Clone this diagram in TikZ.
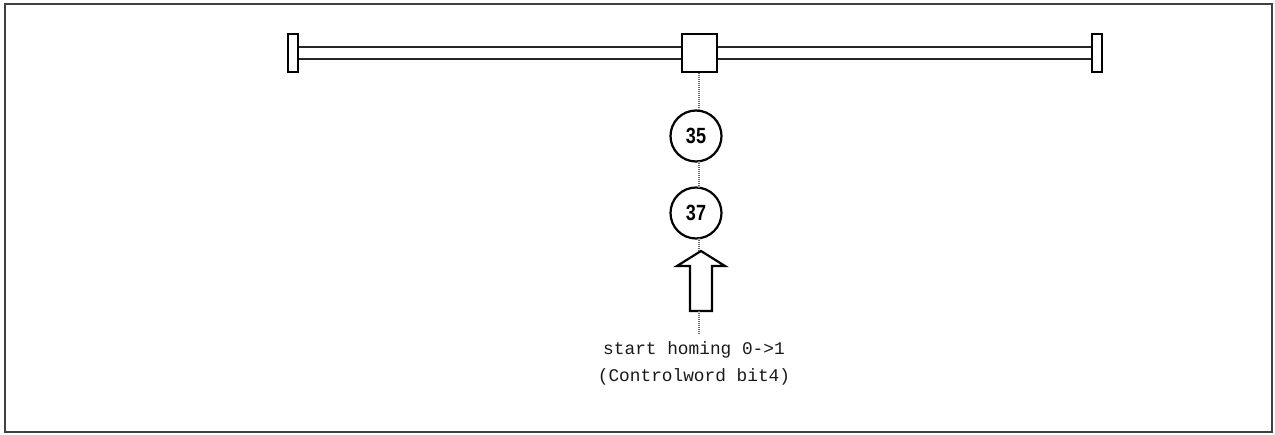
\documentclass[tikz,border=0pt]{standalone}
\usepackage{fontspec}
\newfontfamily\monof{Liberation Mono}
\newfontfamily\numf{Liberation Sans}
\begin{document}
\begin{tikzpicture}[x=1pt,y=-1pt,
  frame/.style={draw=black!75,line width=1.6pt},
  rail/.style={draw=black!85,line width=2.2pt},
  endcap/.style={draw=black,line width=2.2pt,fill=white,inner sep=0pt},
  dots/.style={draw=black!60,line width=1.8pt,dash pattern=on 1pt off 1pt},
  posn/.style={circle,draw=black,line width=2.2pt,fill=white,minimum size=51pt,inner sep=0pt,font=\numf\bfseries\fontsize{22}{22}\selectfont},
  lbl/.style={font=\monof\fontsize{17.8}{27}\selectfont,align=center,text=black!90}
]
\useasboundingbox (0,0) rectangle (1275,434);
\draw[frame] (5,4) rectangle (1272,432);
% end caps
\node[endcap,minimum width=10pt,minimum height=38pt] (lc) at (293,53) {};
\node[endcap,minimum width=10pt,minimum height=38pt] (rc) at (1097,53) {};
% carriage
\node[endcap,minimum width=35pt,minimum height=38pt] (sq) at (699.5,53) {};
% rails
\draw[rail] (lc.east |- 0,47) -- (sq.west |- 0,47);
\draw[rail] (lc.east |- 0,59) -- (sq.west |- 0,59);
\draw[rail] (sq.east |- 0,47) -- (rc.west |- 0,47);
\draw[rail] (sq.east |- 0,59) -- (rc.west |- 0,59);
% circles
\node[posn] (c35) at (696,136) {\scalebox{0.82}[1]{35}};
\node[posn] (c37) at (696,213) {\scalebox{0.82}[1]{37}};
% arrow
\coordinate (tip) at (701,251);
\coordinate (sb) at (699,311);
\draw[draw=black,line width=2.2pt,fill=white,line join=miter]
  (701,251) -- (725,266) -- (712,266) -- (712,311) -- (690,311) -- (690,266) -- (677,266) -- cycle;
% dotted line
\draw[dots] (sq.south -| 699,0) -- (699,111);
\draw[dots] (699,161) -- (699,188);
\draw[dots] (699,238) -- (tip -| 699,0);
\coordinate (dend) at (699,335);
\draw[dots] (sb) -- (dend);
% label
\node[lbl,anchor=north] (lab) at (694,338) {start homing 0->1\\(Controlword bit4)};
\end{tikzpicture}
\end{document}
